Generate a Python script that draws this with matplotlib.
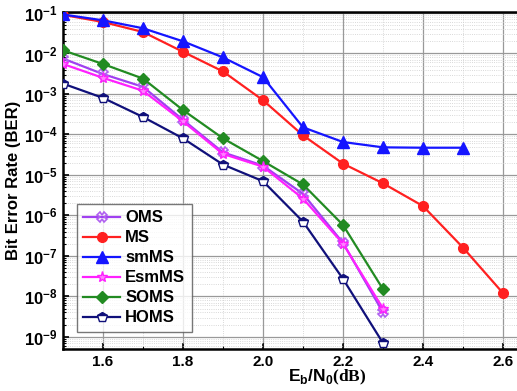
import matplotlib

matplotlib.use("Agg")
import matplotlib.pyplot as plt
from matplotlib.ticker import FixedLocator, LogLocator, NullFormatter

plt.rcParams["font.family"] = ["Liberation Sans", "DejaVu Sans"]
plt.rcParams["font.weight"] = "bold"
plt.rcParams["mathtext.fontset"] = "custom"
plt.rcParams["mathtext.rm"] = "Liberation Sans:bold"
plt.rcParams["mathtext.bf"] = "Liberation Serif:bold"

# Eb/N0 (dB)
snr = [1.5, 1.6, 1.7, 1.8, 1.9, 2.0, 2.1, 2.2, 2.3]
snr_ms = [1.5, 1.6, 1.7, 1.8, 1.9, 2.0, 2.1, 2.2, 2.3, 2.4, 2.5, 2.6]
snr_smms = [1.5, 1.6, 1.7, 1.8, 1.9, 2.0, 2.1, 2.2, 2.3, 2.4, 2.5]

ber_oms = [7.5e-3, 3.1e-3, 1.5e-3, 2.3e-4, 3.6e-5, 1.7e-5, 3.4e-6, 2.1e-7, 4e-9]
ber_ms = [9e-2, 6e-2, 3.4e-2, 1.1e-2, 3.6e-3, 7e-4, 9.5e-5, 1.9e-5, 6.2e-6,
          1.7e-6, 1.6e-7, 1.2e-8]
ber_smms = [9.2e-2, 6.6e-2, 4.2e-2, 2e-2, 8e-3, 2.6e-3, 1.5e-4, 6.5e-5, 4.8e-5,
            4.7e-5, 4.7e-5]
ber_esmms = [5.5e-3, 2.5e-3, 1.2e-3, 2.1e-4, 3.3e-5, 1.6e-5, 2.6e-6, 2e-7, 5e-9]
ber_soms = [1.2e-2, 5.5e-3, 2.4e-3, 4e-4, 8e-5, 2.2e-5, 5.8e-6, 5.8e-7, 1.5e-8]
ber_homs = [1.8e-3, 8e-4, 2.7e-4, 8e-5, 1.8e-5, 7e-6, 7e-7, 2.7e-8, 7e-10]

fig = plt.figure(figsize=(5.17, 3.91), dpi=100)
ax = fig.add_axes([63 / 517, 42 / 391, 460 / 517, 337 / 391])

ax.plot(snr, ber_oms, color="#A040F0", lw=1.6, marker="X", ms=7,
        mfc="none", mec="#B060F0", mew=1.2, label="OMS", zorder=3)
ax.plot(snr_ms, ber_ms, color="#FF2020", lw=1.6, marker="o", ms=7,
        label="MS", zorder=3)
ax.plot(snr_smms, ber_smms, color="#1515FF", lw=1.6, marker="^", ms=8,
        label="smMS", zorder=3)
ax.plot(snr, ber_esmms, color="#FF20FF", lw=1.6, marker="*", ms=8,
        mfc="#FF80FF", label="EsmMS", zorder=4)
ax.plot(snr, ber_soms, color="#228B22", lw=1.6, marker="D", ms=6,
        label="SOMS", zorder=3)
ax.plot(snr, ber_homs, color="#10107A", lw=1.6, marker="p", ms=7.5,
        fillstyle="top", mfc="#10107A", mfcalt="white", mec="#10107A",
        label="HOMS", zorder=3)

ax.set_yscale("log")
ax.set_xlim(1.5, 2.65)
ax.set_ylim(5e-10, 0.106)
ax.xaxis.set_major_locator(FixedLocator([1.6, 1.8, 2.0, 2.2, 2.4, 2.6]))
ax.xaxis.set_minor_locator(FixedLocator([1.5, 1.7, 1.9, 2.1, 2.3, 2.5]))
ax.set_xticklabels(["1.6", "1.8", "2.0", "2.2", "2.4", "2.6"])
ax.yaxis.set_major_locator(LogLocator(base=10, numticks=20))
ax.yaxis.set_minor_locator(LogLocator(base=10, subs=range(2, 10), numticks=20))
ax.yaxis.set_minor_formatter(NullFormatter())

ax.grid(True, which="major", color="#999999", lw=0.9, ls="-")
ax.grid(True, which="minor", color="#CCCCCC", lw=0.6, ls=":")
ax.tick_params(which="both", direction="in")
ax.tick_params(axis="x", labelsize=11, pad=4.5)
ax.tick_params(axis="y", labelsize=12, pad=4)
ax.tick_params(which="major", length=4, width=1.2)
ax.tick_params(which="minor", length=2.5, width=0.8)
for side in ("left", "bottom", "top"):
  ax.spines[side].set_linewidth(1.8)
ax.spines["right"].set_visible(False)

ax.set_ylabel("Bit Error Rate (BER)", fontsize=12, fontweight="bold", labelpad=2)
ax.set_xlabel(r"E$_\mathrm{b}$/N$_\mathrm{0}$$\mathbf{(dB)}$", fontsize=12.5,
              fontweight="bold", va="center")
ax.xaxis.set_label_coords((327 - 63) / 460, -(377 - 349) / 337)

leg = ax.legend(loc="lower left", bbox_to_anchor=(0.03, 0.05), fontsize=12,
                frameon=True, fancybox=False, edgecolor="#555555",
                borderaxespad=0, handlelength=2.2, labelspacing=0.3,
                borderpad=0.4, handletextpad=0.3)
leg.get_frame().set_linewidth(1.0)

fig.savefig("out.png", dpi=100)
